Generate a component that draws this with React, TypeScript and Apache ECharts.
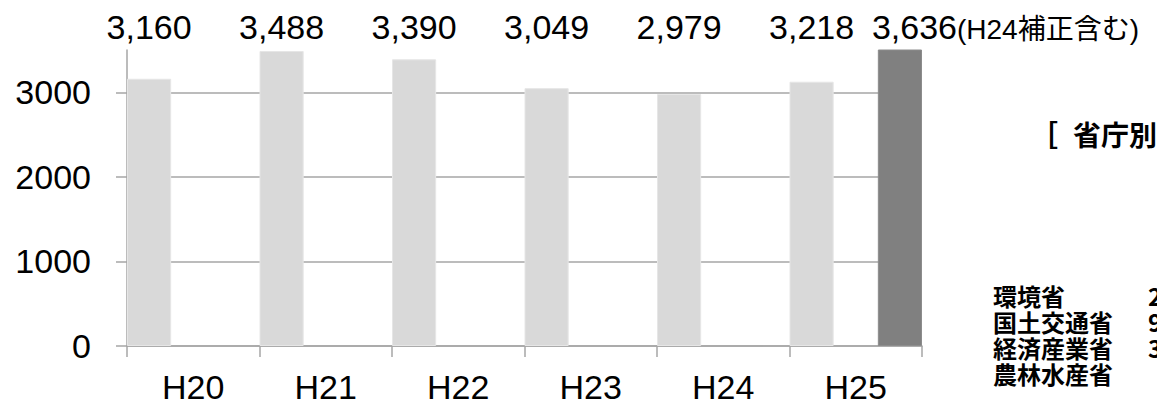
import React, { useEffect, useRef } from "react";
import * as echarts from "echarts";

const categories = ["H20", "H21", "H22", "H23", "H24", "H25"];
const mainValues = [3160, 3488, 3390, 3049, 2979, 3125];
const mainLabels = ["3,160", "3,488", "3,390", "3,049", "2,979", "3,218"];
const spacerValues = [null, null, null, null, null, null];
const supplementValues = [null, null, null, null, null, 3636];
const supplementLabel = "3,636";
const supplementNote = "(H24補正含む)";
const yTicks = [0, 1000, 2000, 3000];
const panelBracket = "［";
const panelTitle = "省庁別";
const ministries = ["環境省", "国土交通省", "経済産業省", "農林水産省"];
const ministryDigits = ["2", "9", "3", ""];

const FONT = "'Liberation Sans', Arial, 'Noto Sans CJK JP', sans-serif";
const JP = "'Noto Sans CJK JP', sans-serif";

export default function App() {
  const ref = useRef<HTMLDivElement>(null);
  useEffect(() => {
    if (!ref.current) return;
    const chart = echarts.init(ref.current, null, { renderer: "svg" });
    const rowTop = [282, 308, 334, 360];
    const graphics: any[] = [
      {
        type: "text",
        left: 1030,
        top: 120,
        style: { text: panelBracket, font: `bold 28px ${JP}`, fill: "#000" },
      },
      {
        type: "text",
        left: 1073,
        top: 120,
        style: { text: panelTitle, font: `bold 28px ${JP}`, fill: "#000" },
      },
    ];
    ministries.forEach((m, i) => {
      graphics.push({
        type: "text",
        left: 993,
        top: rowTop[i],
        style: { text: m, font: `bold 24px ${JP}`, lineHeight: 26, fill: "#000" },
      });
      if (ministryDigits[i]) {
        graphics.push({
          type: "text",
          left: 1148,
          top: rowTop[i],
          style: { text: ministryDigits[i], font: `bold 24px ${JP}`, lineHeight: 26, fill: "#000" },
        });
      }
    });
    chart.setOption({
      animation: false,
      backgroundColor: "#fff",
      grid: { left: 127, right: 235, top: 50, bottom: 59, containLabel: false },
      xAxis: {
        type: "category",
        data: categories,
        boundaryGap: true,
        axisLine: { show: true, lineStyle: { color: "#a6a6a6", width: 1.5 } },
        axisTick: { show: true, length: 11, alignWithLabel: false, lineStyle: { color: "#a6a6a6", width: 1.5 } },
        axisLabel: { fontSize: 34, fontFamily: FONT, color: "#000", margin: 24 },
      },
      yAxis: {
        type: "value",
        min: 0,
        max: 3500,
        interval: 1000,
        axisLine: { show: true, lineStyle: { color: "#a6a6a6", width: 1.5 } },
        axisTick: {
          show: true,
          length: 11,
          customValues: yTicks,
          lineStyle: { color: "#a6a6a6", width: 1.5 },
        },
        axisLabel: {
          customValues: yTicks,
          formatter: (v: number) => String(v),
          fontSize: 34,
          fontFamily: FONT,
          color: "#000",
          margin: 36,
        },
        splitLine: {
          show: true,
          lineStyle: {
            color: ["#a6a6a6", "#a6a6a6", "#a6a6a6", "#a6a6a6", "rgba(0,0,0,0)"],
            width: 1.5,
          },
        },
      },
      series: [
        {
          type: "bar",
          data: mainValues,
          barGap: "0%",
          barCategoryGap: "0%",
          itemStyle: { color: "#d9d9d9", borderColor: "#e6e6e6", borderWidth: 1 },
          label: {
            show: true,
            position: "top",
            formatter: (p: any) => mainLabels[p.dataIndex],
            fontSize: 34,
            fontFamily: FONT,
            color: "#000",
          },
          labelLayout: (p: any) => ({
            x: p.rect.x + p.rect.width / 2,
            y: 27,
            align: "center",
            verticalAlign: "middle",
          }),
        },
        {
          type: "bar",
          data: spacerValues,
          barGap: "0%",
          barCategoryGap: "0%",
          itemStyle: { color: "#d9d9d9" },
        },
        {
          type: "bar",
          data: supplementValues,
          barGap: "0%",
          barCategoryGap: "0%",
          itemStyle: { color: "#808080", borderColor: "#8c8c8c", borderWidth: 1 },
          label: {
            show: true,
            position: "top",
            formatter: () => `{a|${supplementLabel}}{b|${supplementNote}}`,
            rich: {
              a: { fontSize: 34, fontFamily: FONT, color: "#000", verticalAlign: "bottom" },
              b: { fontSize: 28, fontFamily: FONT, color: "#000", verticalAlign: "bottom", padding: [0, 0, 1, 0] },
            },
          },
          labelLayout: (p: any) => ({
            x: p.rect.x + p.rect.width / 2 - 28,
            y: 27,
            align: "left",
            verticalAlign: "middle",
          }),
        },
      ],
      graphic: graphics,
    });
    return () => chart.dispose();
  }, []);
  return (
    <div
      ref={ref}
      style={{ position: "fixed", left: 0, top: 0, width: 1157, height: 405, background: "#fff" }}
    />
  );
}
